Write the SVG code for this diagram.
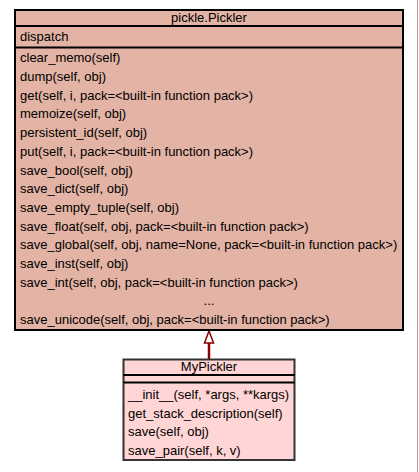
<svg xmlns="http://www.w3.org/2000/svg" width="419" height="472" viewBox="0 0 419 472">
<style>
text{font-family:"Liberation Sans",Arial,sans-serif;font-size:13px;fill:#000}
.c{text-anchor:middle}
.big{fill:#e3b3a5;stroke:#000;stroke-width:2}
.small{fill:#ffd5d5;stroke:#333;stroke-width:2}
.sep{stroke:#000;stroke-width:2}
.sep2{stroke:#000;stroke-width:2}
</style>
<rect x="0" y="0" width="419" height="472" fill="#fff"/>
<line x1="417.5" y1="0" x2="417.5" y2="472" stroke="#a8a8a8" stroke-width="1"/>
<g id="connectors">
<line x1="209" y1="343" x2="209" y2="359" stroke="#8b0000" stroke-width="2.5"/>
<polygon points="209,331 204.5,343 213.5,343" fill="#fff" stroke="#8b0000" stroke-width="1.5"/>
</g>
<g id="pickle.Pickler">
<rect class="big" x="15" y="10" width="388" height="320"/>
<line class="sep" x1="15" y1="26" x2="403" y2="26"/>
<line class="sep" x1="15" y1="47.5" x2="403" y2="47.5" stroke-width="2.5"/>
<text class="c" x="209" y="22">pickle.Pickler</text>
<text x="20" y="40.5">dispatch</text>
<text x="20" y="62.3">clear_memo(self)</text>
<text x="20" y="81">dump(self, obj)</text>
<text x="20" y="99.7">get(self, i, pack=&lt;built-in function pack&gt;)</text>
<text x="20" y="118.4">memoize(self, obj)</text>
<text x="20" y="137.1">persistent_id(self, obj)</text>
<text x="20" y="155.8">put(self, i, pack=&lt;built-in function pack&gt;)</text>
<text x="20" y="174.5">save_bool(self, obj)</text>
<text x="20" y="193.2">save_dict(self, obj)</text>
<text x="20" y="211.9">save_empty_tuple(self, obj)</text>
<text x="20" y="230.6">save_float(self, obj, pack=&lt;built-in function pack&gt;)</text>
<text x="20" y="249.3">save_global(self, obj, name=None, pack=&lt;built-in function pack&gt;)</text>
<text x="20" y="268">save_inst(self, obj)</text>
<text x="20" y="286.7">save_int(self, obj, pack=&lt;built-in function pack&gt;)</text>
<text class="c" x="209" y="305.4">...</text>
<text x="20" y="324.1">save_unicode(self, obj, pack=&lt;built-in function pack&gt;)</text>
</g>
<g id="MyPickler">
<rect class="small" x="123.5" y="359.5" width="171" height="100.5"/>
<line class="sep2" x1="123.5" y1="375" x2="294.5" y2="375"/>
<line class="sep2" x1="123.5" y1="382.5" x2="294.5" y2="382.5"/>
<text class="c" x="209" y="371">MyPickler</text>
<text x="128" y="399">__init__(self, *args, **kargs)</text>
<text x="128" y="417.5">get_stack_description(self)</text>
<text x="128" y="436">save(self, obj)</text>
<text x="128" y="455">save_pair(self, k, v)</text>
</g>
</svg>
